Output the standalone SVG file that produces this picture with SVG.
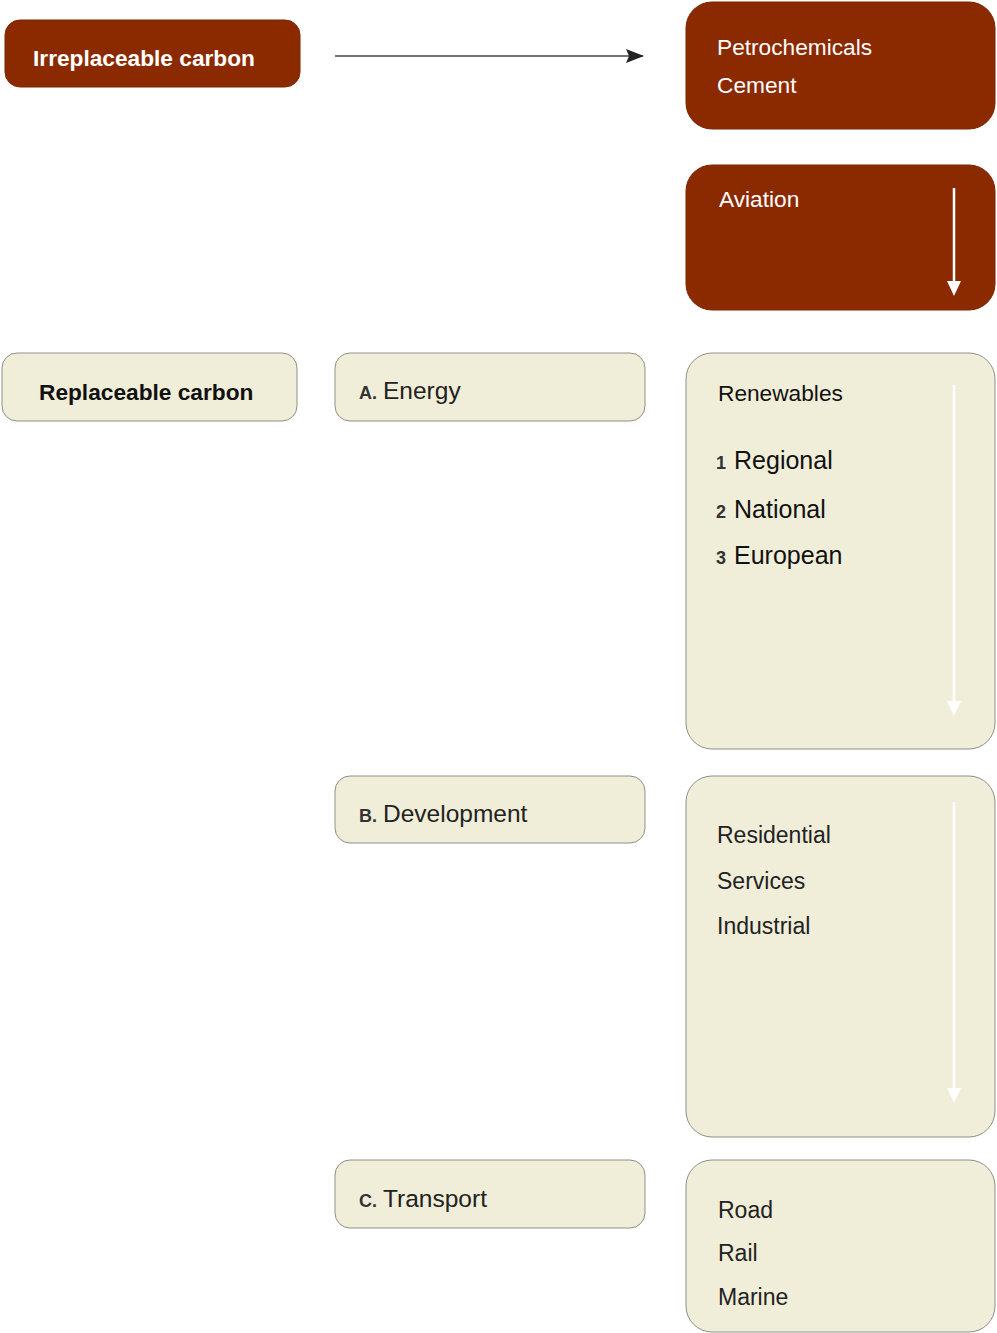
<svg xmlns="http://www.w3.org/2000/svg" width="997" height="1333" viewBox="0 0 997 1333">
<style>
.dark{fill:#8b2a00;stroke:#7a2600;stroke-width:1}
.light{fill:#f0eed8;stroke:#8f8f88;stroke-width:1}
text{font-family:"Liberation Sans",Arial,sans-serif}
.wt{fill:#ffffff;font-size:22.7px}
.bt{fill:#222222;font-size:23px}
.big{fill:#111111;font-size:25px}
.lab{fill:#222222;font-size:24.5px}
.num{fill:#333333;font-size:18px;font-weight:bold}
.hb{font-size:22.7px;font-weight:bold}
.wline{stroke:#ffffff;stroke-width:2.5;fill:none}
</style>
<defs>
<marker id="ah" viewBox="0 0 18 14" refX="17" refY="7" markerWidth="18" markerHeight="14" markerUnits="userSpaceOnUse" orient="auto"><path d="M0,0 L18,7 L0,14 L3,7 z" fill="#222"/></marker>
</defs>
<g id="irreplaceable">
<rect class="dark" x="5" y="20" width="295" height="67" rx="15"/>
<text class="hb" x="33" y="66" fill="#ffffff">Irreplaceable carbon</text>
</g>
<g id="petrochem">
<rect class="dark" x="686" y="2" width="309" height="127" rx="26"/>
<text class="wt" x="717" y="55">Petrochemicals</text>
<text class="wt" x="717" y="93">Cement</text>
</g>
<g id="aviation">
<rect class="dark" x="686" y="165" width="309" height="145" rx="26"/>
<text class="wt" x="719" y="207">Aviation</text>
<line class="wline" x1="954" y1="188" x2="954" y2="285"/>
<path d="M947,281 L961,281 L954,296 z" fill="#fff"/>
</g>
<g id="replaceable">
<rect class="light" x="2" y="353" width="295" height="68" rx="15"/>
<text class="hb" x="39" y="400" fill="#111111">Replaceable carbon</text>
</g>
<g id="energy">
<rect class="light" x="335" y="353" width="310" height="68" rx="15"/>
<text x="359" y="399"><tspan class="num">A.</tspan><tspan class="lab" dx="6">Energy</tspan></text>
</g>
<g id="renewables">
<rect class="light" x="686" y="353" width="309" height="396" rx="26"/>
<text class="wt" x="718" y="401" fill="#111" style="fill:#111">Renewables</text>
<text x="716" y="469"><tspan class="num">1</tspan><tspan class="big" dx="8">Regional</tspan></text>
<text x="716" y="518"><tspan class="num">2</tspan><tspan class="big" dx="8">National</tspan></text>
<text x="716" y="564"><tspan class="num">3</tspan><tspan class="big" dx="8">European</tspan></text>
<line class="wline" x1="954" y1="385" x2="954" y2="705"/>
<path d="M947,701 L961,701 L954,716 z" fill="#fff"/>
</g>
<g id="development">
<rect class="light" x="335" y="776" width="310" height="67" rx="15"/>
<text x="359" y="822"><tspan class="num">B.</tspan><tspan class="lab" dx="6">Development</tspan></text>
</g>
<g id="buildings">
<rect class="light" x="686" y="776" width="309" height="361" rx="26"/>
<text class="bt" x="717" y="843">Residential</text>
<text class="bt" x="717" y="889">Services</text>
<text class="bt" x="717" y="934">Industrial</text>
<line class="wline" x1="954" y1="802" x2="954" y2="1092"/>
<path d="M947,1088 L961,1088 L954,1103 z" fill="#fff"/>
</g>
<g id="transport">
<rect class="light" x="335" y="1160" width="310" height="68" rx="15"/>
<text x="359" y="1207"><tspan class="num">C.</tspan><tspan class="lab" dx="6">Transport</tspan></text>
</g>
<g id="modes">
<rect class="light" x="686" y="1160" width="309" height="172" rx="26"/>
<text class="bt" x="718" y="1218" font-size="24">Road</text>
<text class="bt" x="718" y="1261" font-size="24">Rail</text>
<text class="bt" x="718" y="1305" font-size="24">Marine</text>
</g>
<g id="connectors">
<line x1="335" y1="56" x2="643" y2="56" stroke="#444" stroke-width="1.5" marker-end="url(#ah)"/>
</g>
</svg>
